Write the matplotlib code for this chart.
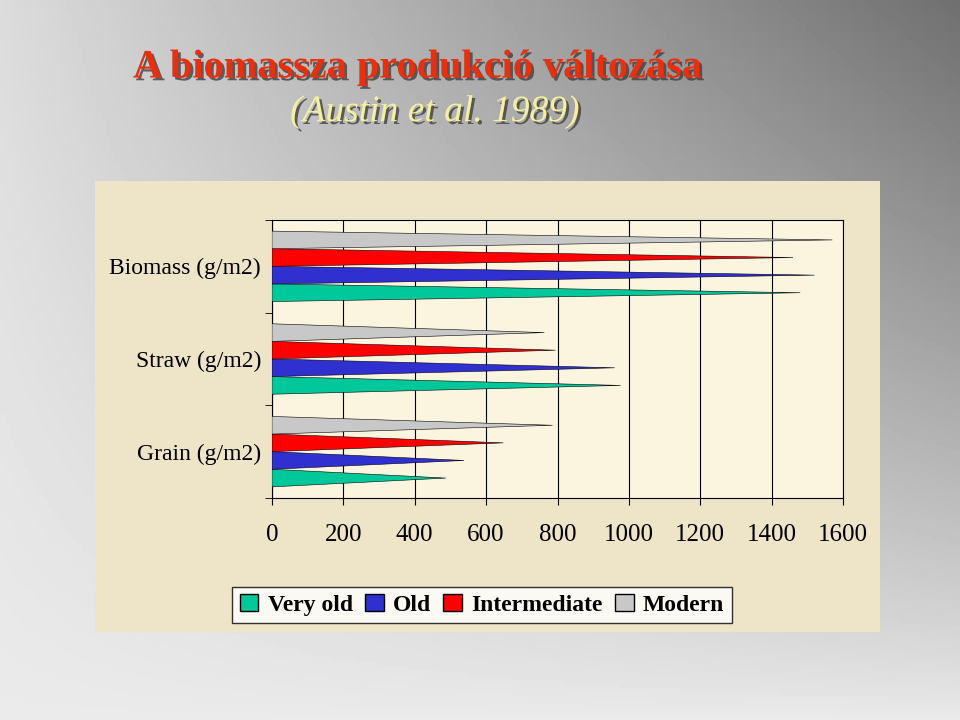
import numpy as np
import matplotlib.pyplot as plt
import matplotlib.patheffects as pe
from matplotlib.patches import Rectangle, Patch

categories = ["Grain (g/m2)", "Straw (g/m2)", "Biomass (g/m2)"]
series = ["Very old", "Old", "Intermediate", "Modern"]
very_old = [487, 977, 1480]
old = [538, 960, 1520]
intermediate = [648, 794, 1460]
modern = [786, 763, 1570]
colors = ["#00c89a", "#3030d0", "#ff0000", "#c8c8c8"]
xticks = [0, 200, 400, 600, 800, 1000, 1200, 1400, 1600]

plt.rcParams["font.family"] = "Liberation Serif"
fig = plt.figure(figsize=(9.6, 7.2), dpi=100)

# gradient background
bg = fig.add_axes([0, 0, 1, 1])
xx, yy = np.meshgrid(np.linspace(0, 1, 200), np.linspace(0, 1, 200))
grad = 0.86 - 0.42 * xx * (1 - yy) ** 0.8 + 0.06 * yy
bg.imshow(grad, cmap="gray", vmin=0, vmax=1, aspect="auto", extent=[0, 1, 0, 1])
bg.add_patch(Rectangle((95 / 960, 1 - 632 / 720), 785 / 960, 451 / 720,
                       facecolor="#eee4c8", edgecolor="none"))
bg.set_xlim(0, 1)
bg.set_ylim(0, 1)
bg.axis("off")

shadow = [pe.withSimplePatchShadow(offset=(2, -2), shadow_rgbFace="#404040", alpha=0.8)]
fig.text(133 / 960, 1 - 68 / 720, "A biomassza produkció változása", fontsize=29,
         fontweight="bold", color="#e83010", va="center", path_effects=shadow)
fig.text(290 / 960, 1 - 112 / 720, "(Austin et al. 1989)", fontsize=27,
         fontstyle="italic", color="#f4f0a0", va="center", path_effects=shadow)

ax = fig.add_axes([272 / 960, 1 - 498 / 720, 571 / 960, 278 / 720])
ax.set_facecolor("#fbf4df")
vals = [very_old, old, intermediate, modern]
h = 0.19
for ci in range(len(categories)):
    for si in range(len(series)):
        yc = ci + (si - 1.5) * h
        v = vals[si][ci]
        ax.fill([0, v, 0], [yc - h * 0.5, yc, yc + h * 0.5],
                color=colors[si], edgecolor="black", linewidth=0.4, zorder=3)
ax.set_xlim(0, 1600)
ax.set_ylim(-0.5, 2.5)
ax.set_xticks(xticks)
ax.set_xticklabels([str(t) for t in xticks], fontsize=18)
ax.set_yticks(range(len(categories)))
ax.set_yticklabels(categories, fontsize=17)
ax.set_yticks([-0.5, 0.5, 1.5, 2.5], minor=True)
ax.tick_params(axis="y", which="major", length=0, pad=8)
ax.tick_params(axis="y", which="minor", length=5)
ax.tick_params(axis="x", length=5, pad=14)
ax.grid(axis="x", color="black", linewidth=0.8, zorder=0)
for s in ax.spines.values():
    s.set_linewidth(0.8)

handles = [Patch(facecolor=c, edgecolor="black", label=s) for c, s in zip(colors, series)]
fig.legend(handles=handles, loc="center", bbox_to_anchor=(482 / 960, 1 - 605 / 720),
           ncol=4, fontsize=17, frameon=True, fancybox=False, edgecolor="black",
           handlelength=0.8, handletextpad=0.4, columnspacing=0.5, borderpad=0.3,
           prop={"size": 17, "weight": "bold"})

fig.savefig("out.png", dpi=100)
